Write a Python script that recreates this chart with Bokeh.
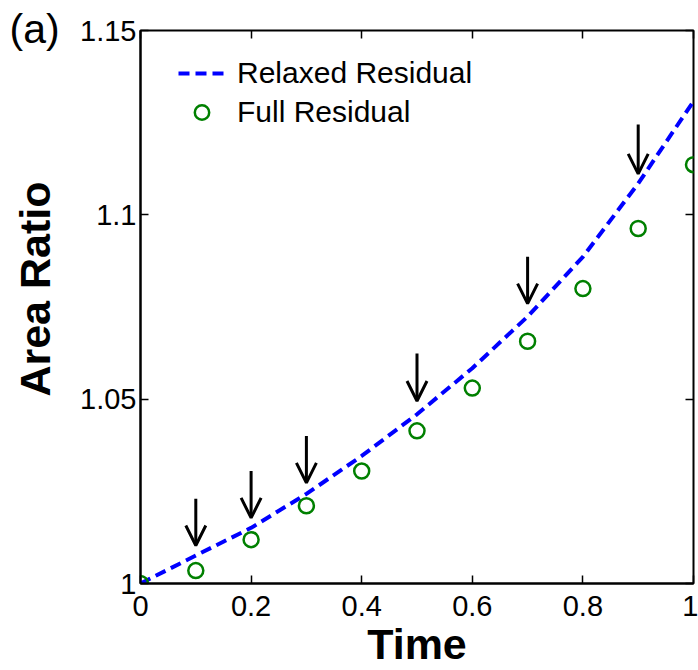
from bokeh.plotting import figure
from bokeh.models import (Range1d, FixedTicker, CustomJSTickFormatter, LinearAxis,
                          Arrow, OpenHead, ColumnDataSource)
from bokeh.embed import file_html
from bokeh.resources import INLINE

# ---- data ----
time = [0.0, 0.1, 0.2, 0.3, 0.4, 0.5, 0.6, 0.7, 0.8, 0.9, 1.0]
relaxed_residual = [1.0, 1.0076, 1.0151, 1.0243, 1.0346, 1.0459, 1.0584, 1.0724, 1.0886, 1.1085, 1.1308]
full_residual = [1.0, 1.0035, 1.0119, 1.0211, 1.0305, 1.0414, 1.0530, 1.0657, 1.0800, 1.0963, 1.1136]
arrow_time = [0.1, 0.2, 0.3, 0.5, 0.7, 0.9]
arrow_tip = [1.0103, 1.0178, 1.0273, 1.0495, 1.0759, 1.1111]
arrow_tail = [1.0230, 1.0305, 1.0400, 1.0624, 1.0886, 1.1245]
x_ticks = [0, 0.2, 0.4, 0.6, 0.8, 1.0]
y_ticks = [1.0, 1.05, 1.1, 1.15]

FONT = "Liberation Sans"

p = figure(width=698, height=670, output_backend="svg", toolbar_location=None,
           x_range=Range1d(0, 1), y_range=Range1d(1.0, 1.15),
           min_border_left=140, min_border_right=5, min_border_top=30, min_border_bottom=87)
p.background_fill_color = "white"
p.border_fill_color = "white"
p.xgrid.visible = False
p.ygrid.visible = False
p.outline_line_color = "black"
p.outline_line_width = 2
p.outline_line_alpha = 1

# panel tag "(a)" in the top-left corner
p.title.text = "(a)"
p.title.align = "left"
p.title.offset = -131
p.title.standoff = -42
p.title.text_font = FONT
p.title.text_font_size = "41px"
p.title.text_font_style = "normal"
p.title.text_color = "black"

fmt = CustomJSTickFormatter(code="return String(parseFloat(tick.toFixed(2)));")

for ax, ticks in ((p.xaxis[0], x_ticks), (p.yaxis[0], y_ticks)):
    ax.ticker = FixedTicker(ticks=ticks)
    ax.formatter = fmt
    ax.major_tick_in = 8
    ax.major_tick_out = 0
    ax.minor_tick_line_color = None
    ax.axis_line_width = 2
    ax.major_tick_line_width = 1.5
    ax.major_label_text_font = FONT
    ax.major_label_text_font_size = "29px"
    ax.major_label_text_color = "black"
    ax.axis_label_text_font = FONT
    ax.axis_label_text_font_size = "43px"
    ax.axis_label_text_font_style = "bold"
    ax.axis_label_text_color = "black"

p.xaxis.axis_label = "Time"
p.yaxis.axis_label = "\u00a0\u00a0\u00a0Area Ratio"
p.xaxis.major_label_standoff = 12
p.yaxis.major_label_standoff = 4
p.xaxis.axis_label_standoff = 1
p.yaxis.axis_label_standoff = 18

# mirrored ticks on top and right (box on)
for loc, ticks in (("right", y_ticks), ("above", x_ticks)):
    ax = LinearAxis(ticker=FixedTicker(ticks=ticks), formatter=fmt,
                    major_tick_in=8, major_tick_out=0, major_tick_line_width=1.5,
                    minor_tick_line_color=None, axis_line_color=None,
                    major_label_text_font_size="0px", major_label_standoff=0)
    p.add_layout(ax, loc)

src = ColumnDataSource(dict(t=time, relaxed=relaxed_residual, full=full_residual))
p.line("t", "relaxed", source=src, line_color="#0000FF", line_width=4,
       line_dash="11 6", legend_label="Relaxed Residual")
p.scatter("t", "full", source=src, marker="circle", size=15, fill_color=None,
          line_color="#008000", line_width=2.5, legend_label="Full Residual")

asrc = ColumnDataSource(dict(x=arrow_time, tip=arrow_tip, tail=arrow_tail))
p.add_layout(Arrow(end=OpenHead(size=20, line_width=3, line_color="black"),
                   x_start="x", y_start="tail", x_end="x", y_end="tip",
                   source=asrc, line_width=3, line_color="black"))

lg = p.legend[0]
lg.location = (38, 453)
lg.label_text_font = FONT
lg.label_text_font_size = "30px"
lg.label_text_color = "black"
lg.glyph_width = 47
lg.glyph_height = 36
lg.label_height = 36
lg.spacing = 3
lg.label_standoff = 12
lg.padding = 0
lg.margin = 0
lg.background_fill_alpha = 0
lg.border_line_alpha = 0

open("out.html", "w").write(file_html(p, INLINE))
